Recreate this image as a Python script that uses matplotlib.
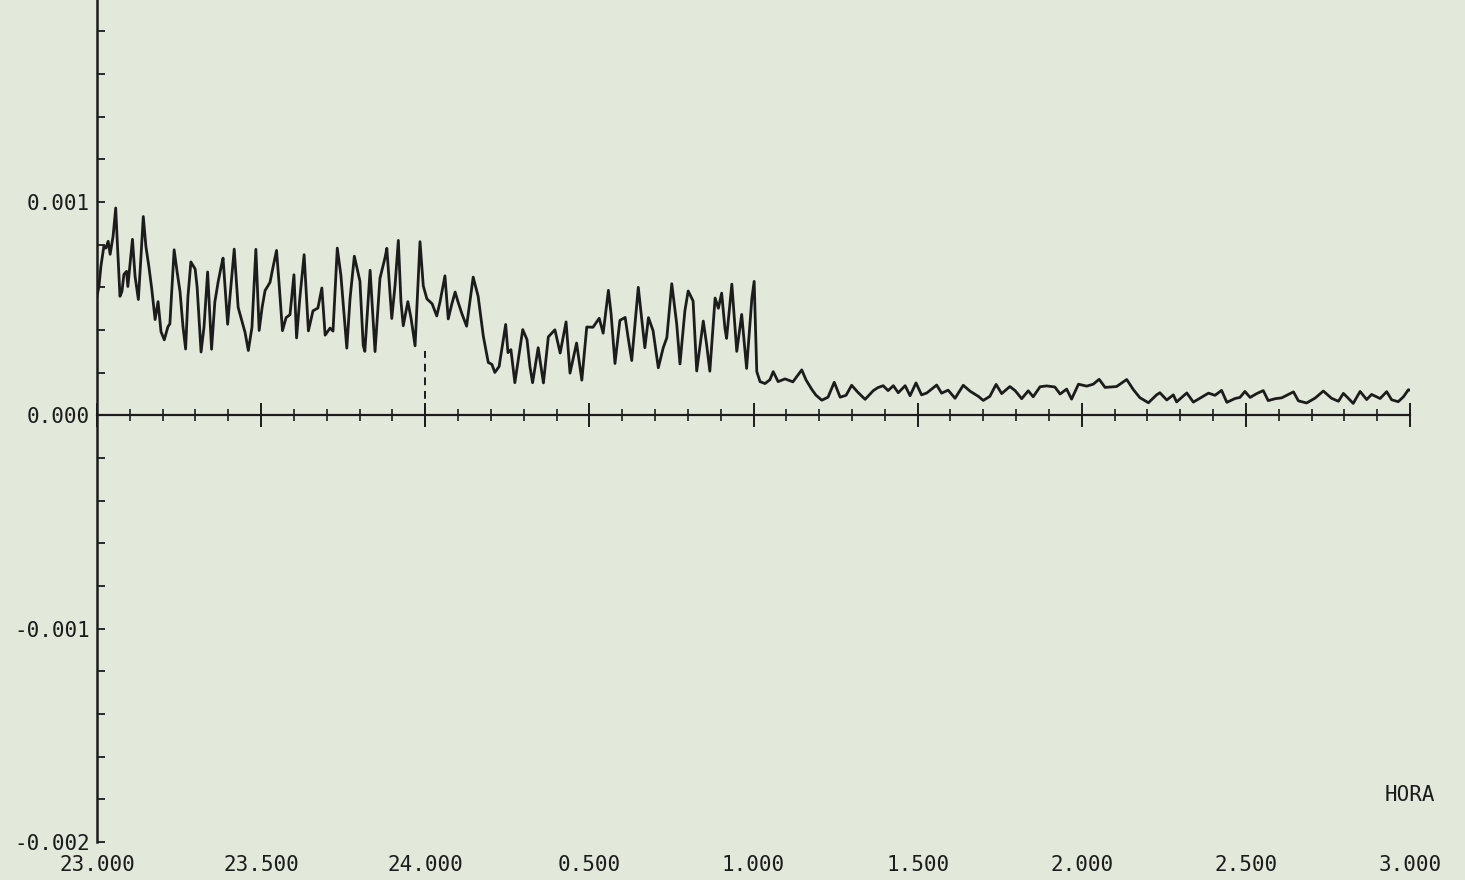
import numpy as np
import matplotlib
matplotlib.use("Agg")
import matplotlib.pyplot as plt
from matplotlib.ticker import MultipleLocator

# Time axis in continuous hours (23:00 -> 03:00 shown as 23 .. 27)
horas = [
    23.000, 23.006, 23.012, 23.021, 23.027, 23.034, 23.040, 23.049, 23.057, 23.061,
    23.070, 23.076, 23.082, 23.090, 23.094, 23.108, 23.116, 23.126, 23.134, 23.141,
    23.149, 23.158, 23.167, 23.177, 23.186, 23.195, 23.205, 23.216, 23.222, 23.235,
    23.244, 23.253, 23.262, 23.270, 23.277, 23.286, 23.299, 23.305, 23.317, 23.326,
    23.337, 23.349, 23.359, 23.369, 23.378, 23.384, 23.398, 23.405, 23.418, 23.430,
    23.441, 23.451, 23.461, 23.472, 23.484, 23.494, 23.503, 23.512, 23.527, 23.536,
    23.547, 23.554, 23.565, 23.576, 23.588, 23.600, 23.608, 23.618, 23.631, 23.644,
    23.658, 23.673, 23.685, 23.695, 23.710, 23.719, 23.732, 23.743, 23.761, 23.771,
    23.784, 23.801, 23.811, 23.816, 23.832, 23.847, 23.862, 23.877, 23.883, 23.898,
    23.908, 23.918, 23.926, 23.933, 23.947, 23.957, 23.969, 23.984, 23.994, 24.005,
    24.021, 24.035, 24.045, 24.060, 24.070, 24.081, 24.091, 24.100, 24.112, 24.126,
    24.146, 24.161, 24.177, 24.192, 24.203, 24.212, 24.225, 24.245, 24.252, 24.261,
    24.273, 24.297, 24.310, 24.319, 24.327, 24.344, 24.360, 24.375, 24.395, 24.411,
    24.429, 24.441, 24.461, 24.477, 24.492, 24.511, 24.530, 24.542, 24.558, 24.566,
    24.578, 24.593, 24.609, 24.618, 24.629, 24.649, 24.659, 24.669, 24.680, 24.694,
    24.710, 24.725, 24.736, 24.751, 24.766, 24.776, 24.791, 24.801, 24.816, 24.827,
    24.847, 24.857, 24.867, 24.883, 24.893, 24.903, 24.913, 24.918, 24.934, 24.949,
    24.964, 24.979, 24.995, 25.002, 25.010, 25.020, 25.035, 25.050, 25.060, 25.075,
    25.096, 25.120, 25.147, 25.160, 25.177, 25.190, 25.208, 25.227, 25.246, 25.264,
    25.282, 25.299, 25.318, 25.340, 25.365, 25.379, 25.395, 25.410, 25.426, 25.441,
    25.462, 25.477, 25.495, 25.512, 25.528, 25.558, 25.573, 25.593, 25.614, 25.639,
    25.660, 25.685, 25.700, 25.720, 25.739, 25.756, 25.781, 25.797, 25.817, 25.837,
    25.852, 25.873, 25.893, 25.918, 25.934, 25.954, 25.969, 25.990, 26.015, 26.035,
    26.053, 26.071, 26.106, 26.137, 26.157, 26.177, 26.203, 26.228, 26.238, 26.259,
    26.279, 26.289, 26.320, 26.340, 26.365, 26.386, 26.406, 26.426, 26.442, 26.467,
    26.482, 26.497, 26.513, 26.533, 26.553, 26.568, 26.589, 26.609, 26.645, 26.660,
    26.685, 26.711, 26.736, 26.761, 26.782, 26.797, 26.812, 26.827, 26.848, 26.868,
    26.883, 26.909, 26.929, 26.944, 26.964, 26.980, 26.995, 27.000,
]

# Recorded signal, in units of 1e-3
senal_e3 = [
    0.559, 0.606, 0.700, 0.793, 0.784, 0.816, 0.755, 0.840, 0.972, 0.839,
    0.558, 0.581, 0.661, 0.675, 0.604, 0.825, 0.651, 0.543, 0.745, 0.932,
    0.792, 0.698, 0.590, 0.449, 0.533, 0.392, 0.354, 0.415, 0.429, 0.776,
    0.673, 0.579, 0.415, 0.311, 0.555, 0.719, 0.686, 0.602, 0.297, 0.414,
    0.672, 0.310, 0.531, 0.625, 0.695, 0.737, 0.427, 0.554, 0.779, 0.506,
    0.445, 0.389, 0.304, 0.412, 0.778, 0.398, 0.506, 0.585, 0.623, 0.693,
    0.773, 0.632, 0.397, 0.458, 0.472, 0.659, 0.363, 0.551, 0.753, 0.396,
    0.490, 0.503, 0.597, 0.376, 0.409, 0.395, 0.784, 0.657, 0.315, 0.549,
    0.746, 0.629, 0.328, 0.300, 0.680, 0.299, 0.642, 0.736, 0.783, 0.454,
    0.609, 0.820, 0.533, 0.420, 0.533, 0.453, 0.326, 0.814, 0.607, 0.546,
    0.523, 0.466, 0.532, 0.654, 0.452, 0.522, 0.578, 0.531, 0.475, 0.418,
    0.648, 0.559, 0.370, 0.248, 0.239, 0.201, 0.229, 0.426, 0.294, 0.308,
    0.153, 0.402, 0.355, 0.228, 0.153, 0.317, 0.152, 0.368, 0.401, 0.292,
    0.438, 0.198, 0.339, 0.165, 0.414, 0.413, 0.455, 0.385, 0.586, 0.478,
    0.243, 0.445, 0.459, 0.365, 0.257, 0.600, 0.458, 0.317, 0.458, 0.397,
    0.223, 0.317, 0.364, 0.617, 0.429, 0.241, 0.490, 0.583, 0.536, 0.208,
    0.442, 0.334, 0.207, 0.550, 0.502, 0.573, 0.408, 0.361, 0.615, 0.300,
    0.473, 0.220, 0.548, 0.628, 0.205, 0.158, 0.149, 0.167, 0.205, 0.158,
    0.171, 0.157, 0.213, 0.166, 0.123, 0.095, 0.071, 0.085, 0.155, 0.085,
    0.094, 0.141, 0.108, 0.075, 0.116, 0.130, 0.139, 0.116, 0.139, 0.106,
    0.139, 0.092, 0.152, 0.096, 0.105, 0.142, 0.104, 0.118, 0.080, 0.141,
    0.113, 0.089, 0.070, 0.089, 0.145, 0.102, 0.135, 0.116, 0.078, 0.115,
    0.087, 0.134, 0.138, 0.133, 0.100, 0.123, 0.076, 0.146, 0.137, 0.146,
    0.169, 0.131, 0.135, 0.168, 0.121, 0.083, 0.059, 0.096, 0.106, 0.072,
    0.096, 0.063, 0.105, 0.062, 0.085, 0.104, 0.094, 0.117, 0.061, 0.079,
    0.084, 0.112, 0.084, 0.102, 0.116, 0.069, 0.078, 0.082, 0.110, 0.068,
    0.058, 0.081, 0.114, 0.080, 0.066, 0.103, 0.080, 0.056, 0.112, 0.074,
    0.098, 0.079, 0.111, 0.073, 0.064, 0.087, 0.120, 0.118,
]

# Day-change marker at midnight
marca_hora = 24.0
marca_rango = [-0.00005, 0.0003]

x_ticks = [23.0, 23.5, 24.0, 24.5, 25.0, 25.5, 26.0, 26.5, 27.0]
x_labels = ["23.000", "23.500", "24.000", "0.500", "1.000",
            "1.500", "2.000", "2.500", "3.000"]
y_ticks = [-0.002, -0.001, 0.0, 0.001]
y_labels = ["-0.002", "-0.001", "0.000", "0.001"]

papel = "#e2e9db"
tinta = "#1c1c1c"
fuente = "DejaVu Sans Mono"
tam = 15

fig = plt.figure(figsize=(14.65, 8.8), dpi=100, facecolor=papel)
ax = fig.add_axes([97 / 1465, 38 / 880, 1313 / 1465, 842 / 880], facecolor=papel)

ax.plot(horas, np.array(senal_e3) * 1e-3, color=tinta, lw=2.0, solid_joinstyle="round")
ax.vlines(marca_hora, marca_rango[0], marca_rango[1], colors=tinta,
          linestyles=(0, (4, 3)), lw=1.4)

ax.set_xlim(23.0, 27.0)
ax.set_ylim(-0.002, 0.001947)

for s in ("top", "right"):
    ax.spines[s].set_visible(False)
ax.spines["left"].set_color(tinta)
ax.spines["left"].set_linewidth(1.8)
ax.spines["bottom"].set_position(("data", 0.0))
ax.spines["bottom"].set_color(tinta)
ax.spines["bottom"].set_linewidth(1.6)

# ticks crossing the zero line
ax.set_xticks(x_ticks)
ax.xaxis.set_minor_locator(MultipleLocator(0.1))
ax.tick_params(axis="x", which="major", direction="inout", length=17,
               width=1.4, color=tinta, labelbottom=False)
ax.tick_params(axis="x", which="minor", direction="inout", length=8.5,
               width=1.2, color=tinta)

# vertical axis
ax.set_yticks(y_ticks, y_labels)
ax.yaxis.set_minor_locator(MultipleLocator(0.0002))
ax.tick_params(axis="y", which="both", direction="in", length=6, width=1.3,
               color=tinta, pad=5, labelsize=tam, labelcolor=tinta)
for t in ax.get_yticklabels():
    t.set_family(fuente)

# hour labels along the lower edge
sec = ax.secondary_xaxis("bottom")
sec.set_xticks(x_ticks, x_labels)
sec.spines["bottom"].set_visible(False)
sec.tick_params(axis="x", length=0, pad=9, labelsize=tam, labelcolor=tinta)
sec.xaxis.set_minor_locator(plt.NullLocator())
for t in sec.get_xticklabels():
    t.set_family(fuente)

ax.set_xlabel("HORA", family=fuente, fontsize=tam, color=tinta, va="center")
ax.xaxis.set_label_coords(1.0, 47 / 842)

fig.savefig("out.png", dpi=100, facecolor=papel)
